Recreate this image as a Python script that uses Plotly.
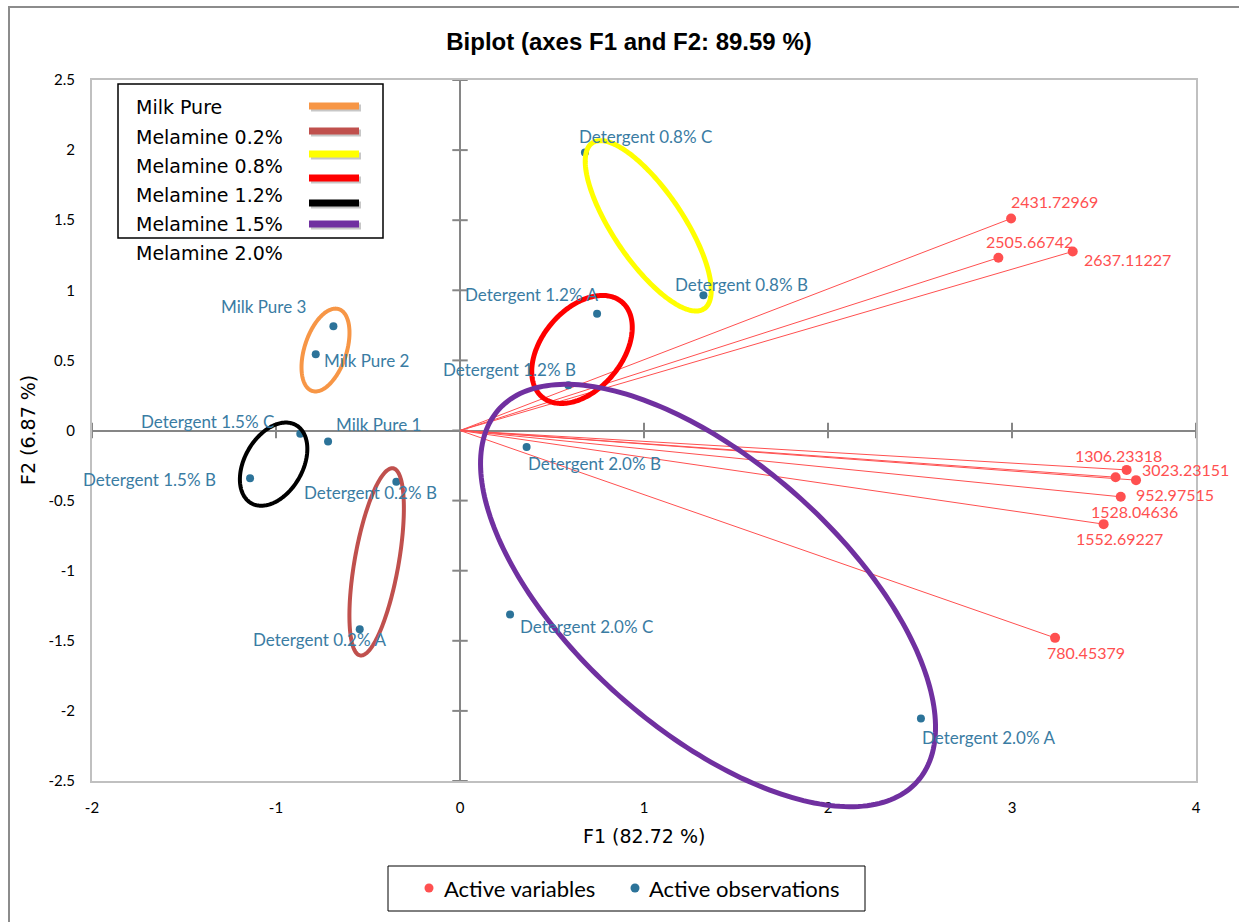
import numpy as np
import plotly.graph_objects as go

# ---------------- data ----------------
obs_names = ["Milk Pure 1", "Milk Pure 2", "Milk Pure 3",
             "Detergent 0.2% A", "Detergent 0.2% B",
             "Detergent 0.8% B", "Detergent 0.8% C",
             "Detergent 1.2% A", "Detergent 1.2% B",
             "Detergent 1.5% B", "Detergent 1.5% C",
             "Detergent 2.0% A", "Detergent 2.0% B", "Detergent 2.0% C"]
obs_f1 = [-0.717, -0.784, -0.688, -0.545, -0.346, 1.323, 0.679,
          0.745, 0.589, -1.141, -0.868, 2.505, 0.362, 0.272]
obs_f2 = [-0.078, 0.544, 0.744, -1.417, -0.366, 0.965, 1.983,
          0.832, 0.323, -0.340, -0.024, -2.054, -0.117, -1.312]

var_names = ["2431.72969", "2505.66742", "2637.11227", "1306.23318",
             "3023.23151", "952.97515", "1528.04636", "1552.69227",
             "780.45379"]
var_f1 = [2.995, 2.926, 3.330, 3.623, 3.674, 3.563, 3.591, 3.498, 3.234]
var_f2 = [1.512, 1.232, 1.277, -0.281, -0.354, -0.333, -0.473, -0.668, -1.479]

groups = ["Milk Pure", "Melamine 0.2%", "Melamine 0.8%",
          "Melamine 1.2%", "Melamine 1.5%", "Melamine 2.0%"]
group_colors = ["#F79646", "#C0504D", "#FFFF00", "#FF0000", "#000000", "#7030A0"]
# group ellipses: centre (F1, F2), semi-axes in px, rotation in degrees
group_cx = [-0.731, -0.453, 1.023, 0.663, -1.013, 1.348]
group_cy = [0.574, -0.937, 1.460, 0.578, -0.240, -1.177]
group_a = [43, 95, 100, 62, 45, 280]
group_b = [21, 22, 35, 40, 29, 134]
group_angle = [72, 80, -56, 50, 60, -41.6]
group_width = [4, 4, 5, 5, 4, 5]

x_ticks = [-2, -1, 0, 1, 2, 3, 4]
x_tick_text = ["-2", "-1", "0", "1", "2", "3", "4"]
y_ticks = [-2.5, -2, -1.5, -1, -0.5, 0, 0.5, 1, 1.5, 2, 2.5]
y_tick_text = ["-2.5", "-2", "-1.5", "-1", "-0.5", "0", "0.5", "1", "1.5", "2", "2.5"]

X_RANGE = [-2, 4]
Y_RANGE = [-2.5, 2.5]

legend_names = ["Active variables", "Active observations"]

# ---------------- layout geometry ----------------
W, H = 1239, 922
M_L, M_R, M_T, M_B = 92, 43, 80, 141
PLOT_W = W - M_L - M_R
PLOT_H = H - M_T - M_B
PX_PER_X = PLOT_W / (X_RANGE[1] - X_RANGE[0])
PX_PER_Y = PLOT_H / (Y_RANGE[1] - Y_RANGE[0])


def px_x(px):
    return (px - M_L) / PLOT_W


def px_y(py):
    return (M_T + PLOT_H - py) / PLOT_H


def y_to_paper(y):
    return (np.asarray(y) - Y_RANGE[0]) / (Y_RANGE[1] - Y_RANGE[0])


def ellipse_path(cx, cy, a, b, ang):
    """SVG path of a rotated ellipse; x in axis units, y in paper units."""
    t = np.linspace(0, 2 * np.pi, 240)
    th = np.radians(ang)
    u = a * np.cos(t) * np.cos(th) - b * np.sin(t) * np.sin(th)
    v = a * np.cos(t) * np.sin(th) + b * np.sin(t) * np.cos(th)
    xs = cx + u / PX_PER_X
    ys = y_to_paper(cy + v / PX_PER_Y)
    pts = [f"{x:.5f},{y:.5f}" for x, y in zip(xs, ys)]
    return "M" + " L".join(pts) + " Z"


OBS_COLOR = "#2C7399"
OBS_TEXT = "#3A7CA3"
VAR_COLOR = "#FF5050"
LABEL_FONT = "Lato"
KEY_FONT = "DejaVu Sans"

# label placement: (anchor, x shift px, y shift px)
obs_label_pos = [("left", 6, 17), ("left", 6, -6), ("right", -25, 20),
                 ("left", -109, -10), ("left", -94, -11),
                 ("left", -30, 11), ("left", -8, 16),
                 ("right", 3, 19), ("right", 10, 16),
                 ("right", -32, -1), ("right", -24, 12),
                 ("left", -1, -19), ("left", -1, -17), ("left", 8, -12)]
var_label_pos = [("left", -2, 17), ("left", -14, 16), ("left", 9, -8),
                 ("left", -54, 14), ("left", 4, 11), ("left", 18, -17),
                 ("left", -32, -15), ("left", -30, -14), ("left", -10, -15)]

fig = go.Figure()

# tick marks crossing the zero axes
fig.add_trace(go.Scatter(x=[0] * len(y_ticks), y=y_ticks, mode="markers",
                         marker=dict(symbol="line-ew", size=11,
                                     line=dict(color="#868686", width=2)),
                         showlegend=False, hoverinfo="skip"))
fig.add_trace(go.Scatter(x=x_ticks, y=[0] * len(x_ticks), mode="markers",
                         marker=dict(symbol="line-ns", size=11,
                                     line=dict(color="#868686", width=2)),
                         showlegend=False, hoverinfo="skip"))

# variable vectors from the origin
vx, vy = [], []
for x, y in zip(var_f1, var_f2):
    vx += [0, x, None]
    vy += [0, y, None]
fig.add_trace(go.Scatter(x=vx, y=vy, mode="lines",
                         line=dict(color=VAR_COLOR, width=1),
                         showlegend=False, hoverinfo="skip"))

fig.add_trace(go.Scatter(x=var_f1, y=var_f2, mode="markers",
                         name=legend_names[0], text=var_names,
                         marker=dict(color=VAR_COLOR, size=10)))
fig.add_trace(go.Scatter(x=obs_f1, y=obs_f2, mode="markers",
                         name=legend_names[1], text=obs_names,
                         marker=dict(color=OBS_COLOR, size=8)))

shapes = []
# group ellipses (allowed to run past the bottom of the frame)
for i, g in enumerate(groups):
    shapes.append(dict(type="path", xref="x", yref="paper", layer="above",
                       path=ellipse_path(group_cx[i], group_cy[i], group_a[i],
                                         group_b[i], group_angle[i]),
                       line=dict(color=group_colors[i], width=group_width[i]),
                       fillcolor="rgba(0,0,0,0)"))

annotations = []
for name, x, y, (anc, dx, dy) in zip(obs_names, obs_f1, obs_f2, obs_label_pos):
    annotations.append(dict(x=x, y=y, xref="x", yref="y", text=name, showarrow=False,
                            xanchor=anc, yanchor="middle", xshift=dx, yshift=dy,
                            font=dict(family=LABEL_FONT, size=17, color=OBS_TEXT)))
for name, x, y, (anc, dx, dy) in zip(var_names, var_f1, var_f2, var_label_pos):
    annotations.append(dict(x=x, y=y, xref="x", yref="y", text=name, showarrow=False,
                            xanchor=anc, yanchor="middle", xshift=dx, yshift=dy,
                            font=dict(family=LABEL_FONT, size=16, color=VAR_COLOR)))

# axis titles
annotations.append(dict(x=px_x(644), y=px_y(836), xref="paper", yref="paper",
                        text="F1 (82.72 %)", showarrow=False,
                        xanchor="center", yanchor="middle",
                        font=dict(family=KEY_FONT, size=19, color="#000")))
annotations.append(dict(x=px_x(28), y=px_y(430), xref="paper", yref="paper",
                        text="F2 (6.87 %)", showarrow=False, textangle=-90,
                        xanchor="center", yanchor="middle",
                        font=dict(family=KEY_FONT, size=19, color="#000")))

# group key
key_text_y = [107, 137, 166, 195, 224, 253]
key_line_y = [106, 131, 154, 178, 203, 224]
for i, g in enumerate(groups):
    annotations.append(dict(x=px_x(134), y=px_y(key_text_y[i]), xref="paper", yref="paper",
                            text=g, showarrow=False, xanchor="left", yanchor="middle",
                            font=dict(family=KEY_FONT, size=19, color="#000")))
for i, c in enumerate(group_colors):
    shapes.append(dict(type="line", xref="paper", yref="paper",
                       x0=px_x(311), x1=px_x(361), y0=px_y(key_line_y[i] + 2), y1=px_y(key_line_y[i] + 2),
                       line=dict(color="rgba(0,0,0,0.22)", width=7)))
    shapes.append(dict(type="line", xref="paper", yref="paper",
                       x0=px_x(309), x1=px_x(359), y0=px_y(key_line_y[i]), y1=px_y(key_line_y[i]),
                       line=dict(color=c, width=7)))
shapes.append(dict(type="rect", xref="paper", yref="paper",
                   x0=px_x(118), x1=px_x(383), y0=px_y(238), y1=px_y(84),
                   line=dict(color="#000", width=1.5), fillcolor="rgba(0,0,0,0)"))

# series legend below the chart
shapes.append(dict(type="rect", xref="paper", yref="paper",
                   x0=px_x(388), x1=px_x(865), y0=px_y(911), y1=px_y(866),
                   line=dict(color="#000", width=1), fillcolor="white"))
for cx, col in ((429, VAR_COLOR), (635, OBS_COLOR)):
    shapes.append(dict(type="circle", xref="paper", yref="paper",
                       xsizemode="pixel", ysizemode="pixel",
                       xanchor=px_x(cx), yanchor=px_y(888),
                       x0=-4.5, x1=4.5, y0=-4.5, y1=4.5,
                       line=dict(width=0), fillcolor=col))
for tx, name in zip((442, 647), legend_names):
    annotations.append(dict(x=px_x(tx), y=px_y(888), xref="paper", yref="paper",
                            text=name, showarrow=False, xanchor="left", yanchor="middle",
                            font=dict(family=LABEL_FONT, size=22, color="#000")))

# outer chart border
shapes.append(dict(type="rect", xref="paper", yref="paper",
                   x0=px_x(9), x1=px_x(1300), y0=px_y(1000), y1=px_y(7),
                   line=dict(color="#8C8C8C", width=2), fillcolor="rgba(0,0,0,0)"))

axis_common = dict(showgrid=False, showline=True, mirror=True, linecolor="#C0C0C0",
                   linewidth=2, zeroline=True, zerolinecolor="#868686", zerolinewidth=2,
                   ticks="", ticklabelstandoff=12,
                   tickfont=dict(family=LABEL_FONT, size=15, color="#000"))

fig.update_layout(
    width=W, height=H,
    margin=dict(l=M_L, r=M_R, t=M_T, b=M_B),
    paper_bgcolor="white", plot_bgcolor="white",
    title=dict(text="<b>Biplot (axes F1 and F2: 89.59 %)</b>",
               x=629 / W, xref="container", xanchor="center",
               y=1 - 42 / H, yref="container", yanchor="middle",
               font=dict(family="Liberation Sans", size=24, color="#000")),
    xaxis=dict(range=X_RANGE, tickvals=x_ticks, ticktext=x_tick_text, **axis_common),
    yaxis=dict(range=Y_RANGE, tickvals=y_ticks, ticktext=y_tick_text, **axis_common),
    annotations=annotations,
    shapes=shapes,
    showlegend=False,
)

fig.write_html("out.html")
